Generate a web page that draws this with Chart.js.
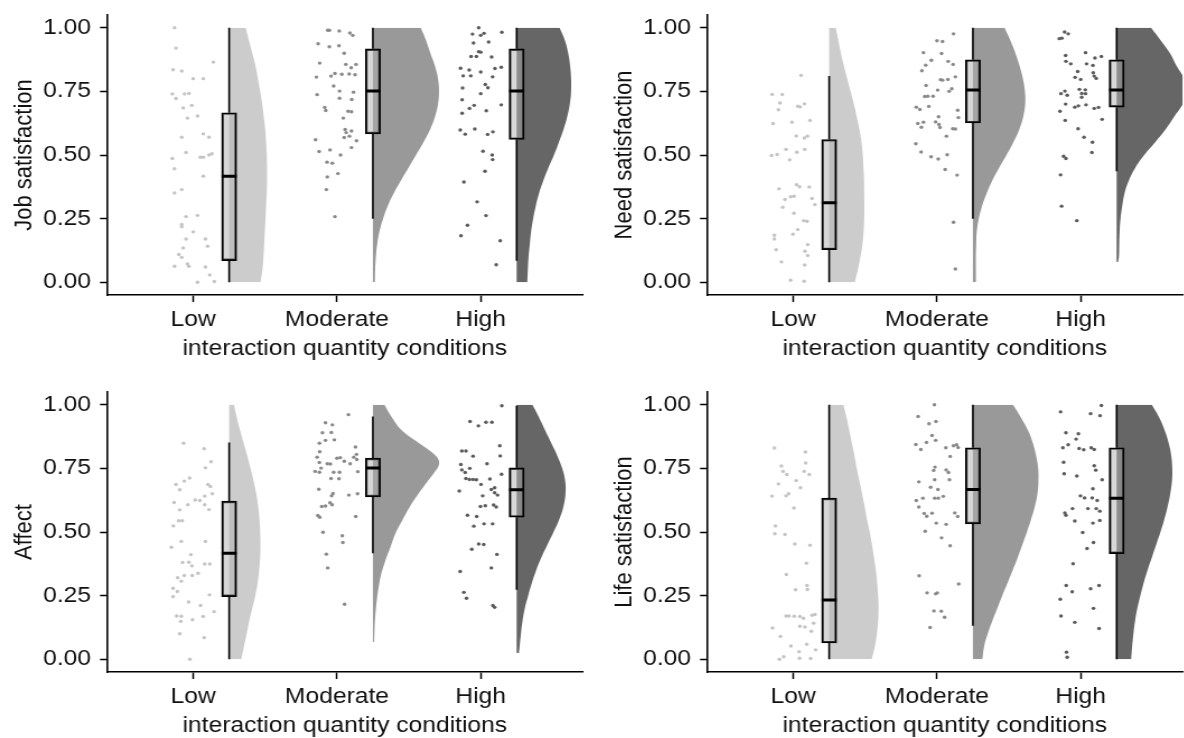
<!DOCTYPE html>
<html>
<head>
<meta charset="utf-8">
<script src="https://cdn.jsdelivr.net/npm/chart.js@4.4.1/dist/chart.umd.min.js"></script>
<style>
  html, body { margin: 0; padding: 0; background: #fff; overflow: hidden; }
  .panel { position: absolute; width: 530px; height: 369px; transform: scaleX(1.12); transform-origin: 0 0; }
</style>
</head>
<body>
<div class="panel" style="left:0;top:0"><canvas id="job" width="530" height="369"></canvas></div>
<div class="panel" style="left:600px;top:0"><canvas id="need" width="530" height="369"></canvas></div>
<div class="panel" style="left:0;top:377px"><canvas id="affect" width="530" height="369"></canvas></div>
<div class="panel" style="left:600px;top:377px"><canvas id="life" width="530" height="369"></canvas></div>
<script>
const categories = ['Low', 'Moderate', 'High'];
const yTicks = [0, 0.25, 0.5, 0.75, 1];
const xTitle = 'interaction quantity conditions';
const levels = [0, 0.05, 0.1, 0.15, 0.2, 0.25, 0.3, 0.35, 0.4, 0.45, 0.5,
                0.55, 0.6, 0.65, 0.7, 0.75, 0.8, 0.85, 0.9, 0.95, 1];

// raw points per condition: [jitter offset from the category, value]
const jobLow = [[-0.13,1.0],[-0.12,0.92],[0.14,0.865],[-0.14,0.835],[-0.08,0.83],[0.0,0.80],[0.07,0.80],[-0.145,0.74],[-0.06,0.74],[-0.03,0.742],[-0.12,0.722],[-0.01,0.695],[-0.07,0.685],[0.03,0.653],[-0.04,0.645],[0.07,0.583],[-0.08,0.57],[0.11,0.57],[-0.05,0.51],[0.05,0.491],[0.07,0.491],[0.11,0.50],[0.13,0.505],[-0.145,0.486],[-0.13,0.446],[0.07,0.417],[-0.08,0.364],[-0.13,0.351],[-0.05,0.258],[0.03,0.263],[-0.08,0.227],[-0.08,0.218],[0.0,0.198],[-0.05,0.17],[0.085,0.17],[-0.07,0.135],[0.10,0.142],[-0.10,0.109],[-0.08,0.098],[-0.13,0.063],[-0.04,0.072],[-0.03,0.063],[0.085,0.06],[0.115,0.029],[0.03,0.0],[0.147,0.003]];
const jobMod = [[-0.064,0.99],[-0.053,0.99],[0.016,0.987],[0.09,0.979],[0.11,0.97],[-0.131,0.937],[-0.053,0.925],[0.014,0.929],[0.05,0.90],[-0.12,0.861],[0.062,0.856],[0.099,0.843],[0.133,0.856],[-0.014,0.82],[-0.041,0.81],[0.034,0.817],[0.085,0.818],[0.126,0.815],[-0.143,0.806],[-0.023,0.771],[0.018,0.751],[0.115,0.747],[-0.138,0.737],[0.018,0.723],[0.103,0.718],[-0.085,0.687],[-0.078,0.675],[0.078,0.672],[0.101,0.67],[0.044,0.645],[0.057,0.60],[0.064,0.588],[0.101,0.594],[0.05,0.569],[0.087,0.574],[-0.149,0.56],[0.136,0.556],[0.101,0.529],[-0.124,0.514],[-0.048,0.52],[0.025,0.50],[-0.069,0.472],[-0.032,0.468],[-0.067,0.414],[0.007,0.427],[-0.074,0.364],[-0.014,0.258]];
const jobHigh = [[-0.014,1.0],[-0.057,0.975],[0,0.97],[0.023,0.978],[0.147,0.982],[-0.05,0.94],[0.055,0.944],[-0.014,0.906],[0,0.904],[-0.067,0.887],[-0.03,0.887],[0.076,0.885],[-0.14,0.841],[-0.08,0.834],[0,0.826],[0.099,0.84],[0.143,0.845],[-0.122,0.811],[-0.069,0.811],[0.083,0.807],[-0.126,0.763],[0.032,0.777],[0.05,0.764],[0,0.741],[-0.129,0.717],[-0.046,0.695],[-0.078,0.683],[0.143,0.697],[-0.129,0.664],[0.039,0.674],[-0.142,0.598],[-0.108,0.582],[-0.041,0.602],[0.048,0.581],[0.085,0.591],[0.016,0.515],[0.08,0.50],[0.083,0.482],[0.03,0.436],[-0.117,0.394],[-0.025,0.316],[0.037,0.262],[-0.092,0.224],[-0.137,0.183],[0.136,0.163],[0.108,0.069]];

const needLow = [[0.055,0.813],[-0.147,0.738],[-0.076,0.738],[-0.092,0.704],[-0.103,0.678],[0.032,0.692],[0.048,0.689],[0.078,0.701],[0.117,0.636],[-0.14,0.624],[-0.009,0.629],[0.021,0.575],[0.078,0.567],[0.099,0.574],[-0.151,0.498],[-0.112,0.502],[-0.05,0.522],[0.025,0.511],[0.08,0.522],[-0.025,0.481],[-0.099,0.367],[0.023,0.383],[0.044,0.375],[0.112,0.374],[-0.057,0.325],[-0.018,0.336],[0.005,0.338],[0.131,0.329],[0.151,0.305],[-0.073,0.295],[0.005,0.271],[0.073,0.242],[0.096,0.24],[0.032,0.207],[-0.131,0.185],[-0.131,0.17],[-0.002,0.189],[-0.119,0.128],[0.101,0.148],[0.082,0.122],[0.101,0.105],[-0.082,0.08],[0.08,0.068],[-0.018,0.008],[0.076,0.004]];
const needMod = [[0.115,0.976],[0,0.949],[0.039,0.946],[-0.094,0.902],[0.032,0.899],[-0.039,0.872],[0.078,0.868],[-0.078,0.853],[0.112,0.856],[-0.105,0.831],[0.128,0.807],[0.025,0.796],[0.039,0.794],[0.076,0.797],[-0.076,0.773],[0.005,0.755],[0.085,0.75],[0.103,0.76],[-0.085,0.73],[-0.064,0.731],[-0.027,0.731],[-0.144,0.688],[-0.119,0.679],[-0.057,0.691],[0.144,0.676],[0.011,0.65],[0.149,0.647],[-0.133,0.624],[-0.094,0.629],[-0.108,0.609],[-0.009,0.63],[0.014,0.62],[0.021,0.608],[0.11,0.603],[0.128,0.602],[0.066,0.574],[-0.147,0.544],[-0.11,0.512],[-0.041,0.493],[0.009,0.484],[0.071,0.501],[0.057,0.443],[0.14,0.421],[0.115,0.236],[0.128,0.052]];
const needHigh = [[-0.112,0.983],[-0.087,0.976],[-0.149,0.957],[-0.131,0.959],[-0.105,0.891],[0.034,0.902],[-0.103,0.868],[-0.069,0.858],[0.041,0.858],[0.099,0.881],[0.144,0.887],[0.085,0.852],[-0.021,0.828],[0.087,0.823],[-0.039,0.805],[0,0.797],[0.094,0.81],[0.108,0.801],[-0.11,0.751],[-0.094,0.735],[-0.137,0.741],[-0.009,0.758],[0.032,0.756],[0.007,0.742],[0.034,0.741],[0.007,0.727],[-0.105,0.70],[-0.041,0.688],[-0.016,0.693],[0.037,0.697],[0.094,0.683],[0.124,0.687],[-0.144,0.672],[-0.108,0.636],[0.149,0.64],[-0.018,0.603],[0.023,0.57],[0.082,0.55],[0.078,0.51],[-0.119,0.495],[-0.103,0.486],[-0.14,0.422],[-0.133,0.299],[-0.027,0.242]];

const affectLow = [[-0.067,0.849],[0.076,0.827],[0.124,0.776],[0.085,0.752],[-0.025,0.712],[-0.062,0.70],[-0.12,0.687],[0.103,0.687],[0.12,0.679],[-0.094,0.666],[0.08,0.641],[0.133,0.65],[-0.133,0.616],[-0.037,0.607],[0.014,0.626],[0.046,0.624],[0.08,0.607],[-0.094,0.587],[0.11,0.588],[-0.101,0.544],[-0.076,0.544],[-0.138,0.524],[-0.083,0.463],[0.085,0.463],[-0.152,0.44],[-0.074,0.38],[-0.03,0.381],[-0.009,0.367],[-0.016,0.411],[0.08,0.374],[0.115,0.374],[-0.108,0.32],[-0.083,0.307],[-0.062,0.329],[-0.007,0.329],[0.034,0.338],[-0.14,0.279],[-0.11,0.266],[-0.14,0.246],[0.113,0.253],[-0.032,0.225],[0.051,0.211],[0.145,0.187],[-0.115,0.17],[-0.083,0.169],[-0.087,0.149],[-0.005,0.155],[0.069,0.168],[-0.094,0.10],[0.076,0.085],[-0.023,0.0]];
const affectMod = [[0.08,0.961],[-0.08,0.929],[-0.032,0.921],[-0.101,0.89],[-0.039,0.891],[-0.08,0.86],[-0.018,0.862],[-0.122,0.849],[-0.12,0.815],[0.129,0.834],[-0.138,0.794],[0,0.79],[0.023,0.792],[0.051,0.778],[0.117,0.794],[0.136,0.805],[0.138,0.785],[-0.122,0.773],[-0.067,0.768],[-0.046,0.767],[0.092,0.768],[-0.11,0.751],[-0.152,0.738],[-0.122,0.735],[-0.023,0.735],[0.018,0.735],[0.145,0.737],[-0.041,0.71],[0.014,0.709],[-0.126,0.668],[-0.037,0.642],[-0.028,0.651],[0.083,0.645],[0.143,0.65],[-0.106,0.60],[-0.08,0.602],[-0.048,0.615],[-0.034,0.607],[-0.133,0.565],[-0.12,0.558],[0.131,0.561],[-0.097,0.499],[0.037,0.485],[0.041,0.459],[-0.074,0.413],[-0.064,0.359],[0.053,0.216]];
const affectHigh = [[0.147,0.996],[-0.074,0.934],[-0.016,0.917],[0.037,0.931],[0.078,0.931],[0.133,0.839],[-0.131,0.818],[-0.103,0.818],[-0.053,0.798],[0.044,0.768],[0.136,0.799],[-0.138,0.765],[-0.131,0.744],[-0.108,0.734],[-0.076,0.75],[-0.103,0.71],[-0.078,0.706],[-0.053,0.706],[-0.03,0.705],[0.064,0.708],[0.145,0.727],[-0.149,0.661],[0.002,0.687],[0.074,0.667],[0.097,0.674],[0.097,0.654],[0.014,0.642],[0.117,0.645],[-0.002,0.60],[0.032,0.603],[0.09,0.606],[0.108,0.598],[-0.092,0.566],[-0.028,0.561],[-0.048,0.523],[0.023,0.532],[0.083,0.532],[-0.014,0.453],[0.021,0.451],[-0.062,0.432],[0.113,0.412],[-0.143,0.345],[0.074,0.359],[-0.117,0.263],[-0.099,0.24],[0.085,0.211],[0.097,0.204]];

const lifeLow = [[-0.131,0.83],[0.085,0.814],[-0.082,0.759],[0.087,0.771],[-0.071,0.738],[-0.044,0.726],[0.076,0.738],[0.112,0.726],[-0.103,0.689],[0.021,0.702],[0.05,0.674],[-0.147,0.641],[-0.05,0.642],[-0.032,0.65],[0.005,0.594],[-0.124,0.524],[-0.128,0.493],[-0.057,0.49],[0.011,0.453],[0.117,0.448],[0.092,0.377],[-0.048,0.333],[0.016,0.273],[0.096,0.29],[0.099,0.274],[-0.05,0.17],[-0.03,0.17],[0.007,0.169],[0.046,0.168],[0.071,0.161],[0.131,0.173],[0.151,0.176],[-0.144,0.123],[0.046,0.13],[0.082,0.127],[0.142,0.142],[-0.089,0.09],[0.126,0.11],[-0.016,0.052],[0.094,0.059],[0.156,0.037],[0.041,0.03],[-0.096,0.0],[-0.066,0.01],[0.044,0.004],[0.121,0.003]];
const lifeMod = [[-0.018,1.0],[-0.131,0.954],[-0.007,0.934],[-0.055,0.925],[-0.034,0.879],[-0.009,0.86],[-0.073,0.852],[-0.147,0.844],[-0.112,0.824],[0.062,0.831],[0.115,0.839],[0.137,0.843],[0.147,0.832],[0.092,0.797],[-0.014,0.755],[-0.023,0.742],[0.064,0.744],[0.08,0.734],[-0.126,0.697],[-0.016,0.705],[0.087,0.705],[-0.044,0.676],[0.007,0.667],[-0.144,0.624],[-0.098,0.633],[-0.016,0.633],[0.009,0.633],[0.044,0.64],[-0.126,0.598],[-0.089,0.573],[-0.071,0.562],[-0.034,0.574],[0.124,0.575],[0.144,0.561],[-0.005,0.535],[0.064,0.53],[-0.082,0.503],[0.032,0.477],[0.092,0.446],[-0.124,0.328],[0.151,0.296],[-0.069,0.261],[-0.009,0.257],[0.002,0.261],[-0.021,0.19],[0.03,0.189],[0.053,0.165],[-0.048,0.125]];
const lifeHigh = [[0.144,0.997],[-0.14,0.972],[0.069,0.965],[0.135,0.957],[-0.103,0.89],[-0.016,0.886],[-0.032,0.865],[-0.087,0.843],[-0.124,0.831],[-0.011,0.828],[0.021,0.823],[0.073,0.831],[0.094,0.824],[-0.119,0.774],[0.094,0.76],[-0.115,0.729],[-0.027,0.72],[0.105,0.743],[0.149,0.705],[0.085,0.67],[-0.002,0.642],[0.027,0.634],[0.08,0.634],[0.115,0.624],[-0.057,0.592],[-0.11,0.575],[-0.103,0.566],[0.05,0.592],[0.108,0.592],[0.133,0.582],[-0.041,0.543],[0.085,0.535],[0.133,0.545],[0.014,0.498],[0.044,0.435],[0.089,0.459],[-0.053,0.375],[-0.101,0.29],[-0.059,0.265],[0.069,0.277],[0.128,0.29],[-0.142,0.236],[0.089,0.2],[-0.137,0.17],[-0.041,0.145],[0.128,0.121],[-0.099,0.028],[-0.094,0.008]];

// box stats per condition: [lower whisker, q1, median, q3, upper whisker]
const jobBox = [[0, 0.085, 0.417, 0.666, 1.0], [0.25, 0.583, 0.751, 0.917, 1.0], [0.085, 0.561, 0.751, 0.917, 1.0]];
const needBox = [[0, 0.128, 0.312, 0.561, 0.81], [0.25, 0.626, 0.755, 0.874, 1.0], [0.436, 0.688, 0.755, 0.874, 1.0]];
const affectBox = [[0, 0.246, 0.417, 0.621, 0.852], [0.417, 0.638, 0.751, 0.79, 0.954], [0.273, 0.558, 0.666, 0.752, 0.996]];
const lifeBox = [[0, 0.064, 0.233, 0.633, 1.0], [0.132, 0.532, 0.667, 0.831, 1.0], [0, 0.415, 0.633, 0.831, 1.0]];

// half-violin: density widths (x units) at the given value levels
const jobViolinY = [levels, levels, levels];
const jobViolinW = [
  [0.218,0.232,0.239,0.244,0.248,0.253,0.257,0.262,0.264,0.264,0.262,0.257,0.251,0.241,0.23,0.216,0.2,0.184,0.161,0.138,0.115],
  [0.014,0.016,0.021,0.030,0.046,0.071,0.103,0.145,0.195,0.248,0.30,0.352,0.398,0.432,0.453,0.46,0.453,0.432,0.40,0.37,0.333],
  [0.074,0.078,0.083,0.092,0.101,0.115,0.133,0.156,0.186,0.221,0.26,0.294,0.326,0.352,0.37,0.379,0.379,0.372,0.359,0.336,0.299]
];
const needViolinY = [levels, levels,
  [0.08,0.1,0.15,0.2,0.25,0.3,0.35,0.4,0.45,0.5,0.55,0.6,0.65,0.7,0.75,0.8,0.85,0.9,0.95,1]];
const needViolinW = [
  [0.179,0.2,0.218,0.232,0.24,0.244,0.245,0.244,0.243,0.239,0.234,0.225,0.211,0.192,0.172,0.149,0.126,0.103,0.082,0.064,0.046],
  [0.021,0.021,0.021,0.023,0.027,0.041,0.064,0.096,0.135,0.183,0.234,0.282,0.323,0.35,0.364,0.362,0.348,0.325,0.296,0.261,0.22],
  [0.01,0.016,0.018,0.021,0.027,0.039,0.055,0.085,0.13,0.192,0.268,0.34,0.40,0.46,0.49,0.47,0.417,0.371,0.307,0.24]
];
const affectViolinY = [levels,
  [0.068,0.178,0.309,0.388,0.44,0.493,0.545,0.598,0.65,0.703,0.729,0.765,0.794,0.834,0.899,0.95,1],
  [0.025,0.05,0.1,0.15,0.2,0.25,0.3,0.35,0.4,0.45,0.5,0.55,0.6,0.65,0.7,0.75,0.8,0.85,0.9,0.95,1]];
const affectViolinW = [
  [0.085,0.103,0.122,0.14,0.161,0.182,0.198,0.209,0.216,0.218,0.216,0.211,0.202,0.189,0.17,0.149,0.126,0.101,0.076,0.053,0.034],
  [0.009,0.018,0.048,0.087,0.122,0.156,0.204,0.256,0.317,0.386,0.421,0.46,0.446,0.36,0.202,0.133,0.08],
  [0.016,0.021,0.03,0.041,0.057,0.08,0.106,0.136,0.172,0.214,0.257,0.297,0.326,0.34,0.338,0.317,0.283,0.241,0.198,0.156,0.11]
];
const lifeViolinY = [levels, levels, levels];
const lifeViolinW = [
  [0.296,0.318,0.332,0.341,0.344,0.341,0.334,0.325,0.312,0.298,0.282,0.263,0.247,0.229,0.211,0.192,0.176,0.158,0.14,0.121,0.099],
  [0.066,0.078,0.103,0.135,0.17,0.204,0.241,0.277,0.312,0.344,0.376,0.405,0.431,0.449,0.456,0.454,0.44,0.417,0.383,0.334,0.28],
  [0.101,0.108,0.117,0.128,0.144,0.165,0.188,0.215,0.245,0.275,0.305,0.332,0.355,0.373,0.385,0.387,0.38,0.362,0.334,0.296,0.245]
];

const pointColors = ['#c4c4c4', '#8a8a8a', '#5c5c5c'];
const violinColors = ['#cccccc', '#999999', '#666666'];
const BOX_SHIFT = 0.25;
const FONT = { family: '"Liberation Sans", Arial, sans-serif', size: 22 };
const TEXT = '#111';

function makePanel(id, yTitle, pts, box, vY, vW) {
  const datasets = [];

  // medians
  datasets.push({
    type: 'scatter',
    data: box.map((b, i) => ({ x: i + 1 + BOX_SHIFT, y: b[2] })),
    pointStyle: 'line', pointRadius: 6.7, borderWidth: 3, borderColor: '#000'
  });
  // boxes
  datasets.push({
    type: 'bar',
    data: box.map((b, i) => ({ x: i + 1 + BOX_SHIFT, y: [b[1], b[3]] })),
    barThickness: 13.4, grouped: false,
    backgroundColor: 'rgba(176,176,176,0.5)',
    borderColor: '#000', borderWidth: 1.7, borderSkipped: false
  });
  // whiskers
  box.forEach((b, i) => {
    const x = i + 1 + BOX_SHIFT;
    datasets.push({
      type: 'line',
      data: [{ x, y: b[0] }, { x, y: b[1] }, { x, y: null }, { x, y: b[3] }, { x, y: b[4] }],
      borderColor: '#000', borderWidth: 1.6, pointRadius: 0, spanGaps: false
    });
  });
  // half violins
  vW.forEach((ws, i) => {
    const base = i + 1 + BOX_SHIFT;
    datasets.push({
      type: 'line', indexAxis: 'y',
      data: vY[i].map((y, k) => ({ x: base + ws[k], y })),
      fill: { value: base },
      backgroundColor: violinColors[i],
      borderColor: 'rgba(0,0,0,0)', borderWidth: 0,
      pointRadius: 0, tension: 0.4
    });
  });
  // raw points
  pts.forEach((g, i) => {
    datasets.push({
      type: 'scatter',
      data: g.map(p => ({ x: i + 1 + p[0], y: p[1] })),
      backgroundColor: pointColors[i], borderWidth: 0, pointRadius: 1.7
    });
  });

  const axisBorder = { display: true, color: '#000', width: 1.6 };

  new Chart(document.getElementById(id), {
    type: 'scatter',
    data: { datasets },
    options: {
      responsive: false,
      animation: false,
      events: [],
      layout: { padding: { top: 15, right: 5.9, left: 0, bottom: 0 } },
      plugins: { legend: { display: false }, tooltip: { enabled: false } },
      scales: {
        x: {
          type: 'linear', min: 0.4, max: 3.71, offset: false,
          afterBuildTicks: a => { a.ticks = [1, 2, 3].map(v => ({ value: v })); },
          afterFit: a => { a.height = 74; a.paddingLeft = 0; a.paddingRight = 0; },
          ticks: { callback: v => categories[v - 1], font: FONT, color: TEXT, padding: 5, autoSkip: false, maxRotation: 0 },
          grid: { display: true, offset: false, drawOnChartArea: false, drawTicks: true, tickLength: 7, color: '#000', tickWidth: 1.5 },
          border: axisBorder,
          title: { display: true, text: xTitle, font: FONT, color: TEXT, padding: { top: 0, bottom: 7 } }
        },
        y: {
          type: 'linear', min: -0.05, max: 1.05,
          afterBuildTicks: a => { a.ticks = yTicks.map(v => ({ value: v })); },
          afterFit: a => { a.width = 95.5; a.paddingTop = 0; a.paddingBottom = 0; },
          ticks: { callback: v => v.toFixed(2), font: FONT, color: TEXT, padding: 8 },
          grid: { display: true, drawOnChartArea: false, drawTicks: true, tickLength: 6.2, color: '#000', tickWidth: 1.5 },
          border: axisBorder,
          title: { display: true, text: yTitle, font: FONT, color: TEXT, padding: { top: 9 } }
        }
      }
    }
  });
}

makePanel('job', 'Job satisfaction', [jobLow, jobMod, jobHigh], jobBox, jobViolinY, jobViolinW);
makePanel('need', 'Need satisfaction', [needLow, needMod, needHigh], needBox, needViolinY, needViolinW);
makePanel('affect', 'Affect', [affectLow, affectMod, affectHigh], affectBox, affectViolinY, affectViolinW);
makePanel('life', 'Life satisfaction', [lifeLow, lifeMod, lifeHigh], lifeBox, lifeViolinY, lifeViolinW);
</script>
</body>
</html>
